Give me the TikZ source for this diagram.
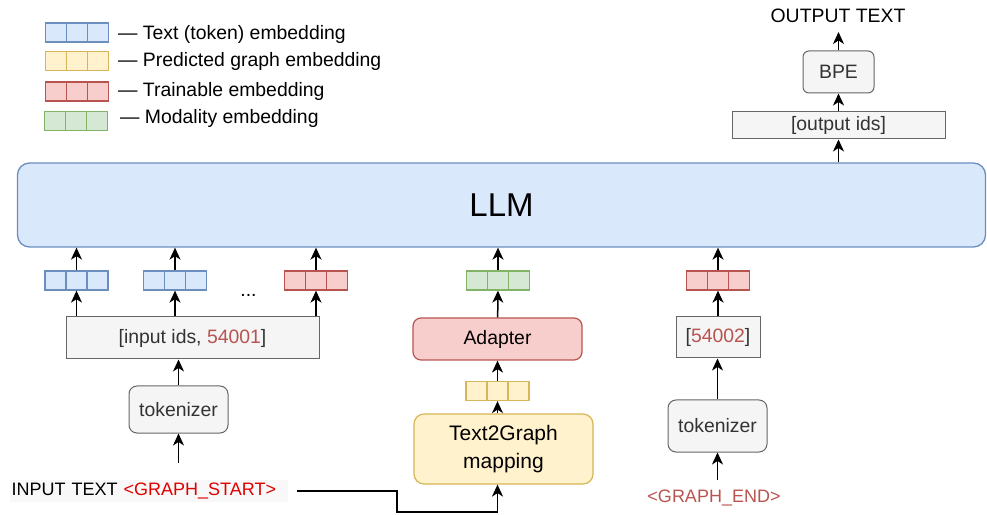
\documentclass[tikz,border=0pt]{standalone}
\usepackage{fontspec}
\setmainfont{Liberation Sans}
\usetikzlibrary{arrows.meta,positioning}

\definecolor{blueFill}{HTML}{DAE8FC}
\definecolor{blueDraw}{HTML}{6C8EBF}
\definecolor{yelFill}{HTML}{FFF2CC}
\definecolor{yelDraw}{HTML}{D6B656}
\definecolor{redFill}{HTML}{F8CECC}
\definecolor{redDraw}{HTML}{B85450}
\definecolor{greenFill}{HTML}{D5E8D4}
\definecolor{greenDraw}{HTML}{82B366}
\definecolor{grayFill}{HTML}{F5F5F5}
\definecolor{grayDraw}{HTML}{666666}
\definecolor{grayText}{HTML}{333333}
\definecolor{tokRed}{HTML}{B85450}
\definecolor{startRed}{HTML}{E00000}
\definecolor{inputBg}{HTML}{F8F8F8}

\begin{document}
\begin{tikzpicture}[x=1pt, y=1pt,
        every node/.style={font=\fontsize{19.4}{23}\selectfont},
        emb/.style 2 args={draw=#2, fill=#1, line width=1.3pt, minimum width=63pt,
            minimum height=19pt, inner sep=0pt,
            path picture={\draw[#2, line width=1.3pt]
                ([xshift=21pt]path picture bounding box.south west) -- ([xshift=21pt]path picture bounding box.north west)
                ([xshift=-21pt]path picture bounding box.south east) -- ([xshift=-21pt]path picture bounding box.north east);}},
        idbox/.style={draw=grayDraw, fill=grayFill, text=grayText, line width=1pt, inner sep=0pt},
        tokbox/.style={idbox, rounded corners=8pt},
        legendtext/.style={anchor=base west, inner sep=0pt},
        link/.style={-{Stealth[length=12pt,width=11pt,inset=3.5pt]}, line width=1.5pt}]
        \useasboundingbox (0,0) rectangle (987,514);

        % Legend
        \node[emb={blueFill}{blueDraw}] (lgText) at (77,481.5) {};
        \node[legendtext] at (118,474.5) {— Text (token) embedding};
        \node[emb={yelFill}{yelDraw}] (lgGraph) at (77,453) {};
        \node[legendtext] at (118,447) {— Predicted graph embedding};
        \node[emb={redFill}{redDraw}] (lgTrain) at (77,422.5) {};
        \node[legendtext] at (118,417.5) {— Trainable embedding};
        \node[emb={greenFill}{greenDraw}] (lgMod) at (76,393) {};
        \node[legendtext] at (120,390) {— Modality embedding};

        % LLM
        \node[draw=blueDraw, fill=blueFill, line width=1.3pt, rounded corners=12pt,
            minimum width=968pt, minimum height=84pt,
            font=\fontsize{33}{40}\selectfont] (llm) at (501.5,309) {LLM};

        % Input text branch
        \node[fill=inputBg, anchor=west, text width=275pt, inner xsep=1.5pt, minimum height=22pt,
            font=\fontsize{18}{22}\selectfont] (inp) at (10,23) {INPUT TEXT \textcolor{startRed}{<GRAPH\_START>}};
        \coordinate (inTok) at (178.5,51);
        \node[tokbox, minimum width=99pt, minimum height=47pt] (tok1) at (178.5,104.5) {tokenizer};
        \node[idbox, minimum width=253pt, minimum height=42pt] (ids) at (192.5,176) {[input ids, \textcolor{tokRed}{54001}]};
        \node[emb={blueFill}{blueDraw}] (e1) at (76.5,233.5) {};
        \node[emb={blueFill}{blueDraw}] (e2) at (175,233.5) {};
        \node (dots) at (248.5,219) {...};
        \node[emb={redFill}{redDraw}] (e3) at (316,233.5) {};

        \draw[link] (inTok) -- (tok1);
        \draw[link] (tok1) -- (tok1 |- ids.south);
        \foreach \e in {e1,e2,e3} {
            \draw[link] (\e |- ids.north) -- (\e);
            \draw[link] (\e) -- (\e |- llm.south);
        }

        % Graph branch
        \node[fill=yelFill, draw=yelDraw, line width=1.2pt, rounded corners=10pt,
            minimum width=179pt, minimum height=70pt, align=center,
            font=\fontsize{21}{28}\selectfont] (t2g) at (503.5,65) {Text2Graph\\mapping};
        \node[emb={yelFill}{yelDraw}] (yel) at (497.5,123) {};
        \node[draw=redDraw, fill=redFill, line width=1.2pt, rounded corners=8pt,
            minimum width=169pt, minimum height=42pt] (adapter) at (497.5,175) {Adapter};
        \node[emb={greenFill}{greenDraw}] (e4) at (498,233.5) {};

        \draw[link] ([xshift=9pt]inp.east) -| (397,2) -| (t2g.south -| yel);
        \draw[link] (t2g.north -| yel) -- (yel);
        \draw[link] (yel) -- (adapter);
        \draw[link] (adapter) -- (e4);
        \draw[link] (e4) -- (e4 |- llm.south);

        % Graph end branch
        \node[text=tokRed, font=\fontsize{18}{22}\selectfont] (gend) at (714,16) {<GRAPH\_END>};
        \coordinate (endTok) at (717.5,34);
        \node[tokbox, minimum width=99pt, minimum height=52pt] (tok2) at (717.5,88) {tokenizer};
        \node[idbox, minimum width=84pt, minimum height=41pt] (eids) at (718,176.5) {[\textcolor{tokRed}{54002}]};
        \node[emb={redFill}{redDraw}] (e5) at (718,233.5) {};

        \draw[link] (endTok) -- (tok2);
        \draw[link] (tok2) -- (tok2 |- eids.south);
        \draw[link] (e5 |- eids.north) -- (e5);
        \draw[link] (e5) -- (e5 |- llm.south);

        % Output
        \node[idbox, minimum width=213pt, minimum height=27pt] (outids) at (838.5,388.5) {[output ids]};
        \node[tokbox, rounded corners=6pt, minimum width=71pt, minimum height=42pt] (bpe) at (838.5,442) {BPE};
        \node (outText) at (838,498) {OUTPUT TEXT};
        \coordinate (outTip) at (838.5,482);

        \draw[link] (outids |- llm.north) -- (outids);
        \draw[link] (outids) -- (bpe);
        \draw[link] (bpe) -- (outTip);

    \end{tikzpicture}
\end{document}
